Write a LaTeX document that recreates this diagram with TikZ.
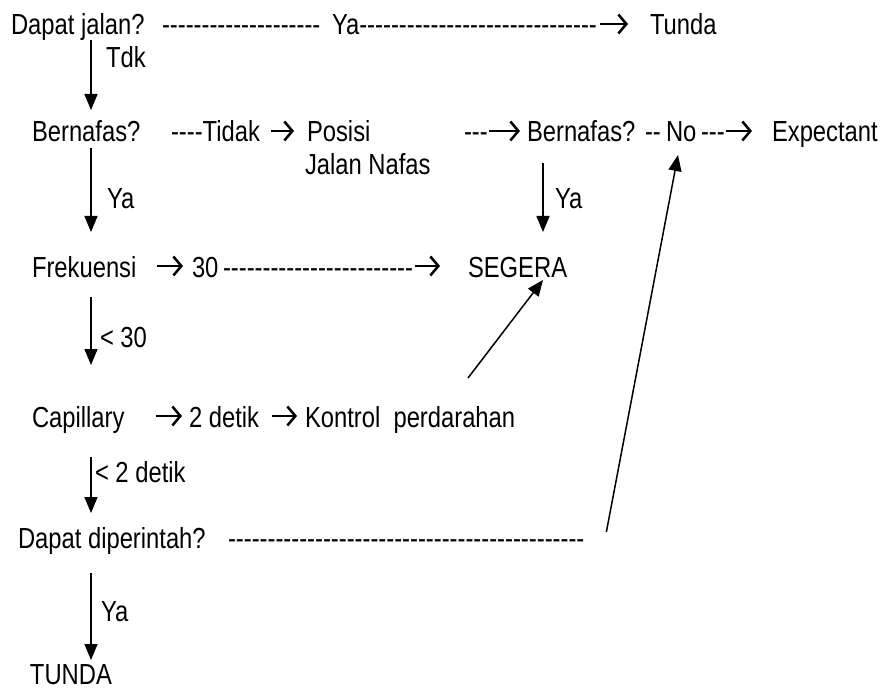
\documentclass[tikz,border=0pt]{standalone}
\usepackage{fontspec}
\newfontfamily\narrowsans{Liberation Sans}[FakeStretch=0.82]
\usetikzlibrary{arrows.meta}
\begin{document}
\begin{tikzpicture}[x=1pt,y=-1pt,
  txt/.style={anchor=base west, inner sep=0pt, outer sep=0pt,
    font=\narrowsans\fontsize{29}{33}\selectfont},
  down/.style={line width=1.5pt, -{Triangle[length=16pt,width=13pt]}},
  chev/.style={line width=2.5pt, -{Straight Barb[length=8pt,width=19pt]}}]
\useasboundingbox[fill=white] (0,0) rectangle (887,690);

% --- row 1
\node[txt] (dj)   at (11,35)  {Dapat jalan?};
\node[txt] (dj1)  at (162,35) {--------------------};
\node[txt] (ya1)  at (332,35) {Ya------------------------------};
\node[txt] (tun)  at (650,35) {Tunda};
\draw[chev] ([shift={(3,-11)}]ya1.base east) -- ([shift={(-22,-11)}]tun.base west);

% --- row 2
\node[txt] (bn)   at (32,142)  {Bernafas?};
\node[txt] (tdk)  at (171,142) {----Tidak};
\node[txt] (pos)  at (307,142) {Posisi};
\node[txt] (jn)   at (305,175) {Jalan Nafas};
\node[txt] (d2)   at (464,142) {---};
\node[txt] (bn2)  at (527,142) {Bernafas?};
\node[txt] (d3)   at (645,142) {--};
\node[txt] (no)   at (666,142) {No};
\node[txt] (d4)   at (701,142) {---};
\node[txt] (exp)  at (772,142) {Expectant};
\draw[chev] ([shift={(11,-11)}]tdk.base east) -- ([shift={(-13,-11)}]pos.base west);
\draw[chev] ([shift={(1,-11)}]d2.base east) -- ([shift={(-7,-11)}]bn2.base west);
\draw[chev] ([shift={(1,-11)}]d4.base east) -- ([shift={(-20,-11)}]exp.base west);

% --- row 3
\node[txt] (fr)   at (32,277)  {Frekuensi};
\node[txt] (t30)  at (192,277) {30};
\node[txt] (d5)   at (223,277) {------------------------};
\node[txt] (seg)  at (468,277) {SEGERA};
\draw[chev] ([shift={(21,-11)}]fr.base east) -- ([shift={(-9,-11)}]t30.base west);
\draw[chev] ([shift={(2,-11)}]d5.base east) -- ([shift={(-28,-11)}]seg.base west);

% --- row 4
\node[txt] (cap)  at (32,427)  {Capillary};
\node[txt] (det)  at (189,427) {2 detik};
\node[txt] (kp)   at (305,427) {Kontrol\ \ perdarahan};
\draw[chev] ([shift={(31,-11)}]cap.base east) -- ([shift={(-7,-11)}]det.base west);
\draw[chev] ([shift={(13,-11)}]det.base east) -- ([shift={(-8,-11)}]kp.base west);

% --- row 5
\node[txt] (dp)   at (18,548)  {Dapat diperintah?};
\node[txt] (d6)   at (228,548) {---------------------------------------------};
\node[txt] (tnd)  at (30,684)  {TUNDA};

% --- downward branches on the left
\draw[down] ([shift={(80,5)}]dj.base west) -- ([shift={(59,-32)}]bn.base west);
\node[txt] (lt1) at (106,68) {Tdk};
\draw[down] ([shift={(59,6)}]bn.base west) -- ([shift={(59,-45)}]fr.base west);
\node[txt] (lt2) at (107,208) {Ya};
\draw[down] ([shift={(59,20)}]fr.base west) -- ([shift={(59,-62)}]cap.base west);
\node[txt] (lt3) at (100,347) {< 30};
\draw[down] ([shift={(59,30)}]cap.base west) -- ([shift={(73,-35)}]dp.base west);
\node[txt] (lt4) at (95,482) {< 2 detik};
\draw[down] ([shift={(73,25)}]dp.base west) -- ([shift={(61,-24)}]tnd.base west);
\node[txt] (lt5) at (101,621) {Ya};

% --- right-hand branches
\draw[down] ([shift={(16,21)}]bn2.base west) -- ([shift={(75,-45)}]seg.base west);
\node[txt] (rt1) at (555,208) {Ya};
\draw[down] ([shift={(163,-49)}]kp.base west) -- ([shift={(75,3)}]seg.base west);
\draw[down] ([shift={(22,-16)}]d6.base east) -- ([shift={(12,13)}]no.base west);
\end{tikzpicture}
\end{document}
